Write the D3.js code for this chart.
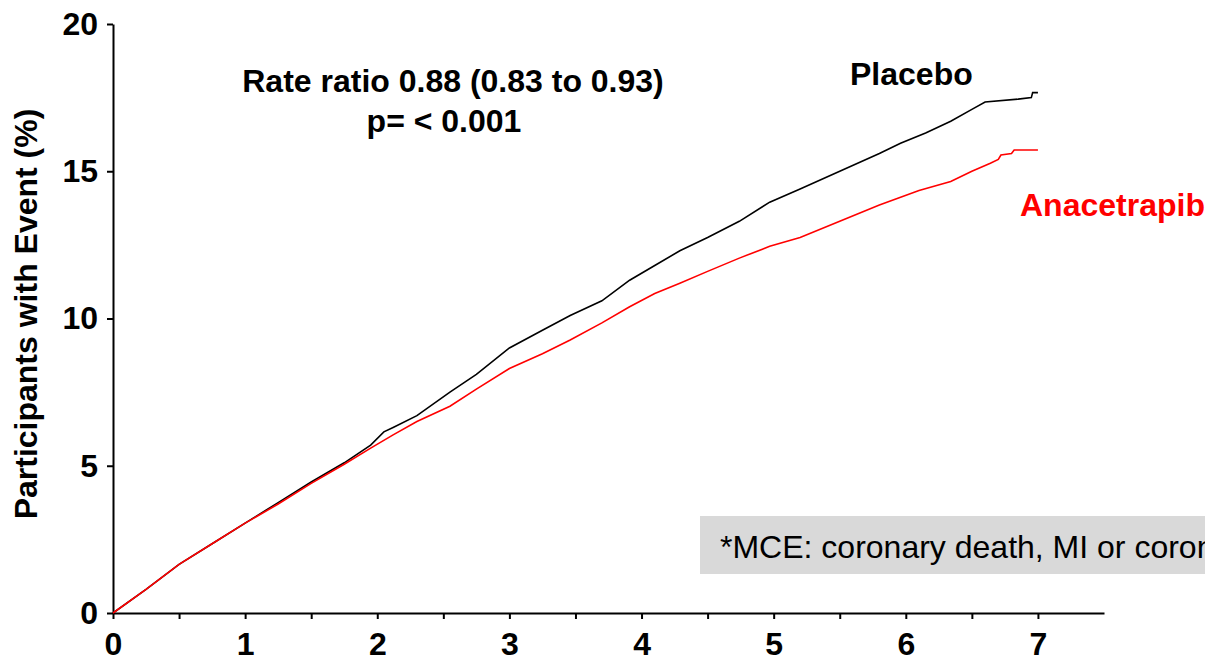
<!DOCTYPE html>
<html>
  <head>
    <style>
      body { margin: 0; background: #fff; overflow: hidden; }
      svg { font-family: "Liberation Sans", Arial, sans-serif; }
      .axis path, .axis line { stroke: #000; stroke-width: 2; }
      .axis text { font-size: 32px; font-weight: bold; fill: #000; }
      .curve { fill: none; stroke-width: 1.6; }
    </style>
    <script src="https://d3js.org/d3.v7.min.js"></script>
  </head>
  <body>
    <svg id="chart" width="1205" height="655"></svg>

    <script>
      // years of follow-up and cumulative % with event
      var placeboYears = [0, 0.25, 0.5, 0.75, 1.0, 1.25, 1.5, 1.75, 1.95, 2.05, 2.12, 2.3, 2.55, 2.75, 3.0, 3.25, 3.46, 3.7, 3.91, 4.1, 4.29, 4.5, 4.74, 4.97, 5.2, 5.5, 5.8, 5.96, 6.15, 6.34, 6.5, 6.6, 6.85, 6.95, 6.96, 7.0];
      var placeboPct   = [0, 0.8, 1.65, 2.35, 3.05, 3.75, 4.45, 5.1, 5.7, 6.15, 6.3, 6.7, 7.5, 8.1, 9.0, 9.6, 10.1, 10.6, 11.3, 11.8, 12.3, 12.75, 13.3, 13.95, 14.4, 15.0, 15.6, 15.95, 16.3, 16.7, 17.1, 17.35, 17.45, 17.5, 17.67, 17.67];

      var anaYears = [0, 0.25, 0.5, 0.75, 1.0, 1.25, 1.5, 1.75, 1.95, 2.12, 2.3, 2.55, 2.75, 3.0, 3.25, 3.46, 3.7, 3.91, 4.1, 4.29, 4.5, 4.74, 4.97, 5.2, 5.5, 5.8, 6.1, 6.34, 6.5, 6.64, 6.7, 6.72, 6.8, 6.82, 7.0];
      var anaPct   = [0, 0.8, 1.65, 2.35, 3.05, 3.7, 4.4, 5.05, 5.6, 6.05, 6.5, 7.02, 7.6, 8.3, 8.8, 9.27, 9.85, 10.4, 10.85, 11.2, 11.6, 12.05, 12.45, 12.75, 13.3, 13.85, 14.35, 14.65, 15.0, 15.27, 15.4, 15.55, 15.6, 15.72, 15.72];

      var xTicks = [0, 0.5, 1, 1.5, 2, 2.5, 3, 3.5, 4, 4.5, 5, 5.5, 6, 6.5, 7];
      var yTicks = [0, 5, 10, 15, 20];

      var svg = d3.select("#chart");
      var margin = {left: 113, top: 24};
      var width = 991, height = 589;

      var x = d3.scaleLinear().domain([0, 7.5]).range([0, width]);
      var y = d3.scaleLinear().domain([0, 20]).range([height, 0]);

      var g = svg.append("g").attr("transform", "translate(" + margin.left + "," + margin.top + ")");

      // footnote box
      g.append("rect")
        .attr("x", 587).attr("y", 492)
        .attr("width", 600).attr("height", 58)
        .attr("fill", "#d9d9d9");
      g.append("text")
        .attr("x", 607).attr("y", 534)
        .attr("font-size", 32)
        .text("*MCE: coronary death, MI or coronary revascularization");

      // axes
      g.append("g")
        .attr("class", "axis")
        .attr("transform", "translate(0," + height + ")")
        .call(d3.axisBottom(x).tickValues(xTicks).tickSizeOuter(0).tickSizeInner(6).tickPadding(13)
          .tickFormat(function(d) { return Number.isInteger(d) ? d : ""; }));

      g.append("g")
        .attr("class", "axis")
        .call(d3.axisLeft(y).tickValues(yTicks).tickSizeOuter(0).tickSizeInner(6).tickPadding(9));

      // curves
      function drawCurve(xs, ys, color) {
        var pts = xs.map(function(t, i) { return [t, ys[i]]; });
        g.append("path")
          .datum(pts)
          .attr("class", "curve")
          .attr("stroke", color)
          .attr("d", d3.line().x(function(d) { return x(d[0]); }).y(function(d) { return y(d[1]); }));
      }
      drawCurve(placeboYears, placeboPct, "#000");
      drawCurve(anaYears, anaPct, "#ff0000");

      // y axis title
      svg.append("text")
        .attr("transform", "translate(37,314) rotate(-90)")
        .attr("text-anchor", "middle")
        .attr("font-size", 32).attr("font-weight", "bold")
        .text("Participants with Event (%)");

      // annotations
      svg.append("text")
        .attr("x", 453).attr("y", 92)
        .attr("text-anchor", "middle")
        .attr("font-size", 32).attr("font-weight", "bold")
        .text("Rate ratio 0.88 (0.83 to 0.93)");
      svg.append("text")
        .attr("x", 444).attr("y", 132)
        .attr("text-anchor", "middle")
        .attr("font-size", 32).attr("font-weight", "bold")
        .text("p= < 0.001");

      svg.append("text")
        .attr("x", 850).attr("y", 85)
        .attr("font-size", 32).attr("font-weight", "bold")
        .text("Placebo");
      svg.append("text")
        .attr("x", 1020).attr("y", 216)
        .attr("font-size", 32).attr("font-weight", "bold")
        .attr("fill", "#ff0000")
        .text("Anacetrapib");
    </script>
  </body>
</html>
